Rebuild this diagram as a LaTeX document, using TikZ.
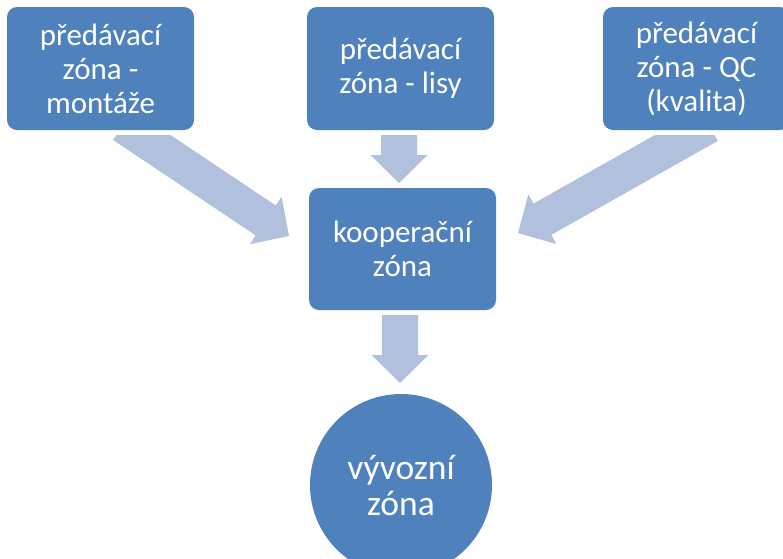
\documentclass[tikz,border=0pt]{standalone}
\usepackage{fontspec}
\setmainfont{Carlito}
\usetikzlibrary{calc}
\definecolor{zoneblue}{HTML}{4F81BD}
\definecolor{flowarrow}{HTML}{B1C0DD}
\tikzset{
  zonebox/.style={fill=zoneblue, rounded corners=10pt, minimum width=187pt,
    minimum height=123pt, inner sep=0pt, text=white, align=center,
    font=\fontsize{31}{34}\selectfont},
  zoneround/.style={circle, fill=zoneblue, minimum size=182pt, inner sep=0pt,
    text=white, align=center, font=\fontsize{35.5}{36}\selectfont},
  flowfill/.style={fill=flowarrow}
}
% wide block arrow from coordinate #1 (tail centre) to coordinate #2 (tip)
\newcommand\blockarrow[2]{%
  \coordinate (#1-#2-h) at ($(#2)!28pt!(#1)$);
  \fill[flowfill] ($(#1)!18pt!90:(#2)$) -- ($(#1-#2-h)!18pt!-90:(#1)$)
    -- ($(#1-#2-h)!28.5pt!-90:(#1)$) -- (#2)
    -- ($(#1-#2-h)!28.5pt!90:(#1)$) -- ($(#1-#2-h)!18pt!90:(#1)$)
    -- ($(#1)!18pt!-90:(#2)$) -- cycle;
}
\begin{document}
\begin{tikzpicture}[x=1pt,y=-1pt]
  \useasboundingbox (0,0) rectangle (783,558);
  \clip (0,0) rectangle (783,558);

  % zones
  \node[zonebox] (mont) at (100.5,68.5) {předávací\\zóna -\\montáže};
  \node[zonebox] (lisy) at (400.5,68.5) {předávací\\zóna - lisy};
  \node[zonebox] (qc)   at (696.5,68.5) {předávací\\zóna - QC\\(kvalita)};
  \node[zonebox, minimum height=122pt] (coop) at (402.5,249) {kooperační\\zóna};
  \node[zoneround] (exp) at (401,485) {vývozní\\zóna};

  % arrow ends
  \coordinate (ls) at (123.1,125);
  \coordinate (lt) at (289,236);
  \coordinate (rs) at (708.9,125.2);
  \coordinate (rt) at (518,233);
  \coordinate (ms) at (399,135);
  \coordinate (mt) at (399,183);
  \coordinate (bs) at (400,315);
  \coordinate (bt) at (400,383);

  % slanted arrows, tails cut level below the upper row
  \begin{scope}
    \clip (0,135.5) rectangle (783,558);
    \blockarrow{ls}{lt}
    \blockarrow{rs}{rt}
  \end{scope}
  \blockarrow{ms}{mt}
  \blockarrow{bs}{bt}
\end{tikzpicture}
\end{document}
